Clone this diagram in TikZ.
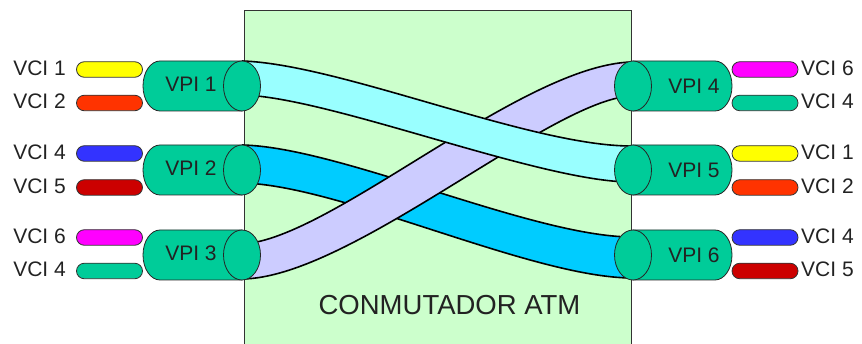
\documentclass[tikz,border=0pt]{standalone}
\usepackage{fontspec}
\setmainfont{Liberation Sans}
\usetikzlibrary{shapes.geometric,shapes.misc}
\definecolor{boxgreen}{HTML}{CCFFCC}
\definecolor{cylgreen}{HTML}{00CC99}
\definecolor{lcyan}{HTML}{99FFFF}
\definecolor{mcyan}{HTML}{00CCFF}
\definecolor{lav}{HTML}{CCCCFF}
\definecolor{vyellow}{HTML}{FFFF00}
\definecolor{vorange}{HTML}{FF3300}
\definecolor{vblue}{HTML}{3333FF}
\definecolor{vdred}{HTML}{CC0000}
\definecolor{vmag}{HTML}{FF00FF}
\definecolor{txt}{HTML}{222222}
\begin{document}
\begin{tikzpicture}[x=1pt,y=-1pt,
 pill/.style={rounded rectangle, draw=black!80, line width=0.8pt, minimum width=66pt, minimum height=15.5pt, inner sep=0pt},
 lbl/.style={font=\fontsize{21}{21}\selectfont, text=txt, inner sep=0pt},
 cylbody/.style={fill=cylgreen, draw=black!85, line width=0.8pt},
 cylend/.style={ellipse, fill=cylgreen, draw=black!85, line width=0.8pt, minimum width=37pt, minimum height=50pt, inner sep=0pt},
 bandedge/.style={line width=1.6pt, draw=black},
]
\useasboundingbox (0,0) rectangle (862,344);
% switch box
\fill[boxgreen] (244,10) rectangle (631,344);
\draw[black!80, line width=0.8pt] (244,350) -- (244,10) -- (631,10) -- (631,350);
\node[font=\fontsize{27.5}{27.5}\selectfont, text=txt, inner sep=0pt] (title) at (449.5,305) {CONMUTADOR ATM};
% medium cyan band VPI2 -> VPI6
\fill[mcyan] (242,145) .. controls (340,147) and (530,236) .. (631,237) -- (631,278) .. controls (530,277) and (340,185) .. (242,183) -- cycle;
\draw[bandedge] (242,145) .. controls (340,147) and (530,236) .. (631,237);
\draw[bandedge] (631,278) .. controls (530,277) and (340,185) .. (242,183);
% lavender band VPI3 -> VPI4
\fill[lav] (242,244) .. controls (330,240) and (520,66) .. (631,62) -- (631,96) .. controls (550,100) and (350,278) .. (242,279) -- cycle;
\draw[bandedge] (242,244) .. controls (330,240) and (520,66) .. (631,62);
\draw[bandedge] (631,96) .. controls (550,100) and (350,278) .. (242,279);
% light cyan band VPI1 -> VPI5
\fill[lcyan] (242,61) .. controls (340,64) and (530,146) .. (631,146) -- (631,182) .. controls (540,182) and (330,97) .. (242,95) -- cycle;
\draw[bandedge] (242,61) .. controls (340,64) and (530,146) .. (631,146);
\draw[bandedge] (631,182) .. controls (540,182) and (330,97) .. (242,95);
% left cylinders
\foreach \i/\cy in {1/86,2/170,3/255}{
  \draw[cylbody] (242,\cy-25) -- (160,\cy-25) arc[start angle=90,end angle=270,x radius=17pt,y radius=25pt] -- (242,\cy+25) -- cycle;
  \node[cylend] (eL\i) at (242,\cy) {};
  \node[lbl] (vpiL\i) at (191,\cy-2) {VPI \i};
}
% right cylinders
\foreach \i/\cy in {4/86,5/170,6/255}{
  \draw[cylbody] (633,\cy-25) -- (715,\cy-25) arc[start angle=90,end angle=-90,x radius=17pt,y radius=25pt] -- (633,\cy+25) -- cycle;
  \node[cylend] (eR\i) at (633,\cy) {};
  \node[lbl] (vpiR\i) at (694,\cy) {VPI \i};
}
% left VCI pills
\foreach \n/\y/\c/\t in {a/69.5/vyellow/1, b/103/vorange/2, c/153.5/vblue/4, d/187.5/vdred/5, e/237.5/vmag/6, f/271/cylgreen/4}{
  \node[pill, fill=\c] (pL\n) at (109.5,\y) {};
  \node[lbl, anchor=east] (tL\n) at (66,\y-1.5) {VCI \t};
}
% right VCI pills
\foreach \n/\y/\c/\t in {a/69.5/vmag/6, b/103/cylgreen/4, c/153.5/vyellow/1, d/187.5/vorange/2, e/237.5/vblue/4, f/271/vdred/5}{
  \node[pill, fill=\c] (pR\n) at (765,\y) {};
  \node[lbl, anchor=west] (tR\n) at (801,\y-1.5) {VCI \t};
}
\end{tikzpicture}
\end{document}
